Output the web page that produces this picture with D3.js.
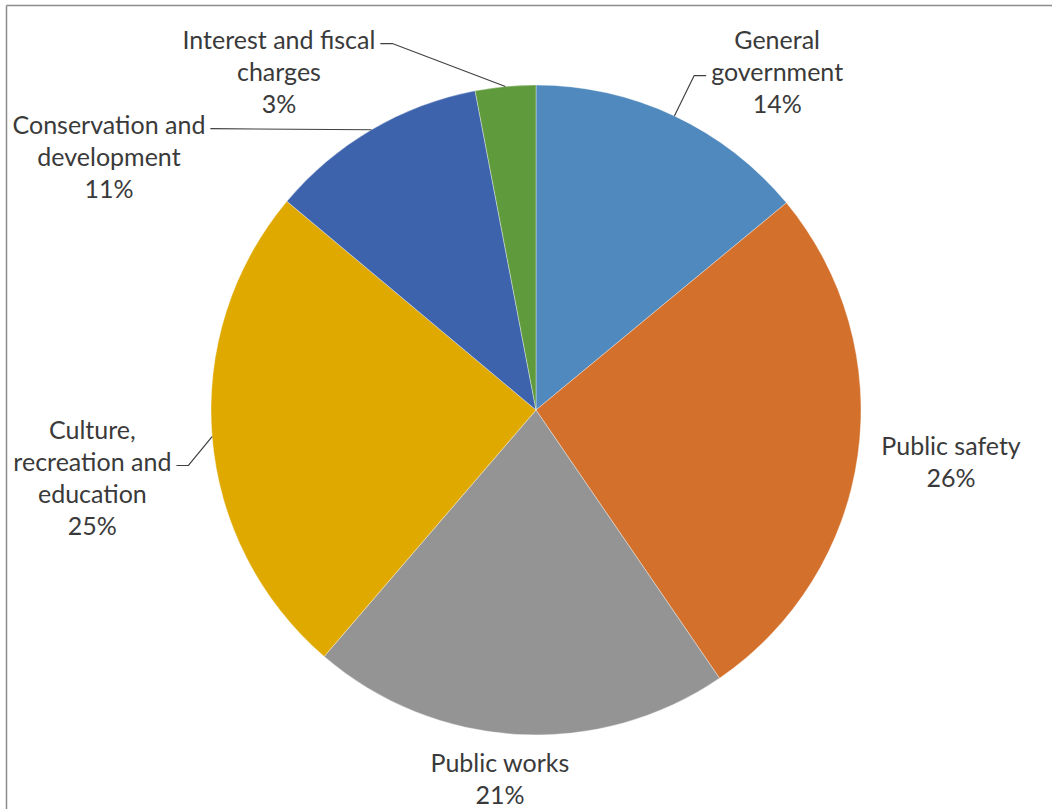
<!DOCTYPE html>
<html>
<head>
<meta charset="utf-8">
<script src="https://cdn.jsdelivr.net/npm/d3@7"></script>
<style>
  html, body { margin: 0; padding: 0; background: #fff; }
  svg { display: block; }
</style>
</head>
<body>
<svg id="chart" width="1052" height="809"></svg>
<script>
// ---- data ----
const categories = [
  ["General", "government"],
  ["Public safety"],
  ["Public works"],
  ["Culture,", "recreation and", "education"],
  ["Conservation and", "development"],
  ["Interest and fiscal", "charges"]
];
const values = [14.0, 26.45, 20.85, 24.8, 10.9, 3.0];
const colors = ["#4F89BD", "#D3702B", "#949494", "#E0A900", "#3E63AD", "#5F9A3D"];

// ---- layout (label block centers relative to pie centre, in radius units) ----
const labelOffsets = [
  [0.742, -1.040],
  [1.277, 0.162],
  [-0.111, 1.137],
  [-1.365, 0.209],
  [-1.314, -0.778],
  [-0.791, -1.040]
];
// leader lines: which slices have them, which label line they attach to, which side, knee length
const leaders = [
  {i: 0, line: 1, side: "left", knee: 12},
  {i: 3, line: 1, side: "right", knee: 12},
  {i: 4, line: 0, side: "right", knee: 0},
  {i: 5, line: 0, side: "right", knee: 12}
];

const W = 1052, H = 809;
const cx = 536, cy = 410, R = 325;
const fontSize = 25, lineH = 32, gap = 5;

const svg = d3.select("#chart");

// frame lines (top and left visible)
svg.append("line").attr("x1", 6.5).attr("y1", 5.5).attr("x2", W).attr("y2", 5.5)
  .attr("stroke", "#8c8c8c").attr("stroke-width", 1.5);
svg.append("line").attr("x1", 6.5).attr("y1", 5.5).attr("x2", 6.5).attr("y2", H)
  .attr("stroke", "#8c8c8c").attr("stroke-width", 1.5);

const total = d3.sum(values);
const pie = d3.pie().sort(null).value(d => d)(values);
const arc = d3.arc().innerRadius(0).outerRadius(R);

const g = svg.append("g").attr("transform", `translate(${cx},${cy})`);
g.selectAll("path.slice").data(pie).join("path")
  .attr("class", "slice")
  .attr("d", arc)
  .attr("fill", (d, i) => colors[i])
  .attr("stroke", "#ffffff")
  .attr("stroke-width", 0.6)
  .attr("stroke-opacity", 0.6);

// labels
const labels = g.selectAll("g.lbl").data(pie).join("g").attr("class", "lbl");
labels.each(function(d, i) {
  const lines = categories[i].concat([Math.round(values[i] / total * 100) + "%"]);
  const bx = labelOffsets[i][0] * R, by = labelOffsets[i][1] * R;
  const top = by - (lines.length - 1) * lineH / 2;
  const t = d3.select(this).append("text")
    .attr("text-anchor", "middle")
    .attr("font-family", "Lato, 'Open Sans', sans-serif")
    .attr("font-size", fontSize)
    .attr("fill", "#3a3a3a");
  lines.forEach((ln, k) => {
    t.append("tspan").attr("x", bx).attr("y", top + k * lineH).attr("dy", "0.35em").text(ln);
  });
  d.tspans = t.selectAll("tspan").nodes();
});

// leader lines
leaders.forEach(L => {
  const d = pie[L.i];
  const mid = (d.startAngle + d.endAngle) / 2;
  const p0 = [Math.sin(mid) * R, -Math.cos(mid) * R];
  const bb = d.tspans[L.line].getBBox();
  const ly = bb.y + bb.height * 0.66;
  const lx = L.side === "left" ? bb.x - gap : bb.x + bb.width + gap;
  const kx = L.side === "left" ? lx - L.knee : lx + L.knee;
  const path = d3.path();
  path.moveTo(lx, ly);
  path.lineTo(kx, ly);
  path.lineTo(p0[0], p0[1]);
  g.append("path").attr("d", path.toString())
    .attr("fill", "none").attr("stroke", "#404040").attr("stroke-width", 1.2);
});
</script>
</body>
</html>
